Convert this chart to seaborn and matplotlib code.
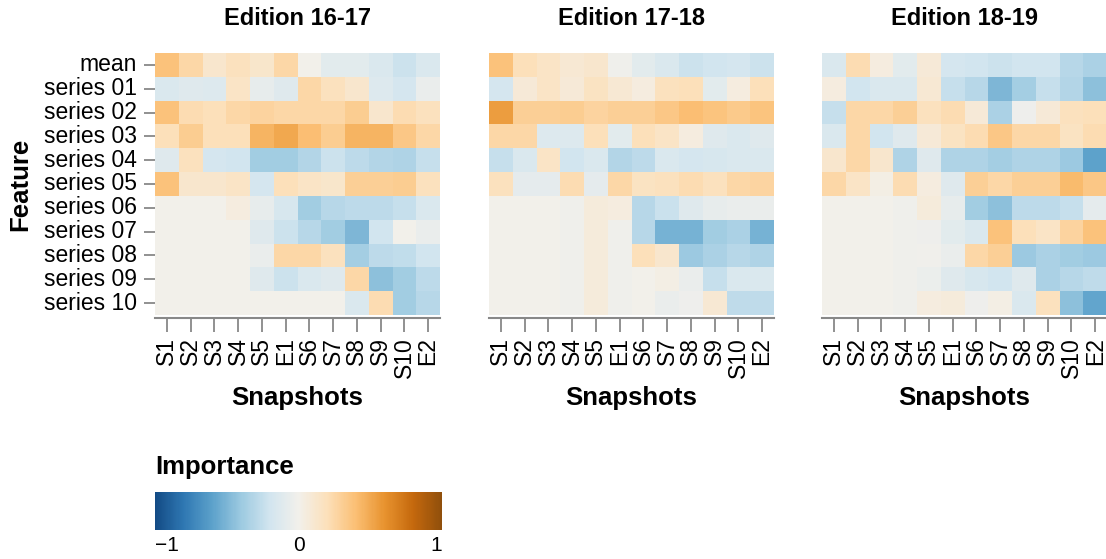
import numpy as np
import pandas as pd
import matplotlib
matplotlib.use("Agg")
import matplotlib.pyplot as plt
from matplotlib.colors import LinearSegmentedColormap
import seaborn as sns

sns.set_theme(style="white")
plt.rcParams["font.family"] = ["Liberation Sans", "DejaVu Sans"]
plt.rcParams["text.color"] = "black"
plt.rcParams["xtick.labelcolor"] = "black"
plt.rcParams["ytick.labelcolor"] = "black"

features = ["mean", "series 01", "series 02", "series 03", "series 04", "series 05",
            "series 06", "series 07", "series 08", "series 09", "series 10"]
snapshots = ["S1", "S2", "S3", "S4", "S5", "E1", "S6", "S7", "S8", "S9", "S10", "E2"]
editions = ["Edition 16-17", "Edition 17-18", "Edition 18-19"]

imp_1617 = [
    [0.38, 0.25, 0.12, 0.18, 0.13, 0.25, 0.00, -0.10, -0.10, -0.15, -0.22, -0.15],
    [-0.15, -0.12, -0.13, 0.15, -0.07, -0.12, 0.25, 0.18, 0.12, -0.13, -0.18, -0.05],
    [0.38, 0.22, 0.20, 0.25, 0.28, 0.25, 0.25, 0.25, 0.32, 0.12, 0.22, 0.18],
    [0.20, 0.32, 0.20, 0.20, 0.45, 0.50, 0.40, 0.32, 0.45, 0.45, 0.35, 0.25],
    [-0.12, 0.18, -0.18, -0.20, -0.38, -0.38, -0.32, -0.22, -0.28, -0.32, -0.33, -0.25],
    [0.38, 0.12, 0.12, 0.15, -0.18, 0.20, 0.15, 0.13, 0.30, 0.30, 0.32, 0.18],
    [0.00, 0.00, 0.00, 0.05, -0.07, -0.17, -0.38, -0.30, -0.28, -0.28, -0.25, -0.15],
    [0.00, 0.00, 0.00, 0.00, -0.12, -0.22, -0.30, -0.38, -0.50, -0.20, 0.00, -0.05],
    [0.00, 0.00, 0.00, 0.00, -0.05, 0.25, 0.25, 0.18, -0.37, -0.28, -0.26, -0.20],
    [0.00, 0.00, 0.00, 0.00, -0.12, -0.22, -0.15, -0.12, 0.25, -0.45, -0.38, -0.28],
    [0.00, 0.00, 0.00, 0.00, 0.00, 0.00, 0.00, 0.00, -0.15, 0.22, -0.38, -0.30],
]

imp_1718 = [
    [0.38, 0.20, 0.15, 0.10, 0.12, -0.02, -0.10, -0.15, -0.22, -0.20, -0.18, -0.22],
    [-0.18, 0.08, 0.15, 0.08, 0.17, 0.10, 0.05, 0.18, 0.20, -0.10, 0.05, 0.20],
    [0.55, 0.30, 0.30, 0.32, 0.28, 0.30, 0.30, 0.35, 0.40, 0.37, 0.33, 0.37],
    [0.25, 0.25, -0.13, -0.13, 0.20, -0.10, 0.20, 0.15, 0.05, -0.12, -0.15, -0.12],
    [-0.25, -0.15, 0.15, -0.20, -0.15, -0.32, -0.28, -0.15, -0.18, -0.17, -0.15, -0.15],
    [0.18, -0.08, -0.08, 0.22, -0.08, 0.25, 0.17, 0.18, 0.22, 0.18, 0.25, 0.27],
    [0.00, 0.00, 0.00, -0.02, 0.07, 0.05, -0.30, -0.23, -0.12, -0.07, -0.05, -0.05],
    [0.00, 0.00, 0.00, -0.02, 0.07, -0.02, -0.30, -0.52, -0.52, -0.38, -0.35, -0.52],
    [0.00, 0.00, 0.00, -0.02, 0.07, -0.02, 0.20, 0.12, -0.40, -0.35, -0.30, -0.33],
    [0.00, 0.00, 0.00, -0.02, 0.07, -0.02, 0.00, 0.03, -0.05, -0.25, -0.15, -0.15],
    [0.00, 0.00, 0.00, -0.02, 0.07, -0.02, 0.00, -0.05, -0.03, 0.10, -0.27, -0.27],
]

imp_1819 = [
    [-0.15, 0.22, 0.05, -0.10, 0.08, -0.18, -0.20, -0.22, -0.20, -0.20, -0.30, -0.35],
    [0.05, -0.20, -0.15, -0.15, 0.10, -0.25, -0.30, -0.50, -0.37, -0.25, -0.32, -0.45],
    [-0.25, 0.25, 0.25, 0.30, 0.18, 0.22, 0.08, -0.35, -0.03, 0.08, 0.18, 0.20],
    [-0.15, 0.25, -0.20, -0.12, 0.08, 0.17, 0.22, 0.35, 0.25, 0.25, 0.17, 0.22],
    [0.12, 0.25, 0.12, -0.33, -0.12, -0.33, -0.33, -0.37, -0.33, -0.33, -0.40, -0.60],
    [0.25, 0.15, 0.03, 0.22, 0.05, -0.12, 0.30, 0.25, 0.30, 0.30, 0.42, 0.35],
    [0.00, 0.00, 0.00, -0.02, 0.07, -0.07, -0.38, -0.45, -0.28, -0.28, -0.25, -0.08],
    [0.00, 0.00, 0.00, -0.02, -0.03, -0.10, -0.15, 0.38, 0.20, 0.15, 0.28, 0.38],
    [0.00, 0.00, 0.00, -0.02, -0.01, -0.05, 0.25, 0.30, -0.40, -0.35, -0.38, -0.40],
    [0.00, 0.00, 0.00, -0.02, -0.04, -0.12, -0.17, -0.20, -0.12, -0.35, -0.30, -0.27],
    [0.00, 0.00, 0.00, -0.02, 0.05, 0.07, -0.03, 0.03, -0.15, 0.18, -0.45, -0.58],
]

# Diverging blue-orange palette
blue_orange = LinearSegmentedColormap.from_list(
    "blueorange",
    ["#134b85", "#2f78b3", "#5da2cb", "#9dcae1", "#d2e5ef", "#f2f0eb",
     "#fce0ba", "#fbbf74", "#e8932f", "#c5690d", "#904f0c"],
)

W, H = 1106, 559
fig = plt.figure(figsize=(W / 100, H / 100), dpi=100)


def fx(px):
    return px / W


def fy(py):
    return 1 - py / H


panel_left = [155, 489, 822]
panel_w, top, bottom = 285, 53, 315
axis_grey = "#888888"
tick_fs, title_fs, axis_title_fs = 16.5, 17, 18.5

for i, (title, values) in enumerate(zip(editions, [imp_1617, imp_1718, imp_1819])):
    ax = fig.add_axes([fx(panel_left[i]), fy(bottom), fx(panel_w), (bottom - top) / H])
    df = pd.DataFrame(values, index=features, columns=snapshots)
    sns.heatmap(df, ax=ax, cmap=blue_orange, vmin=-1, vmax=1, cbar=False,
                linewidths=0, square=False)
    ax.set_xlabel("")
    ax.set_ylabel("")
    ax.spines["bottom"].set_visible(True)
    ax.spines["bottom"].set_color(axis_grey)
    ax.spines["bottom"].set_linewidth(1.5)
    ax.spines["bottom"].set_position(("outward", 2))
    ax.tick_params(axis="x", which="both", bottom=True, length=10, width=1.3,
                   color=axis_grey, pad=4, labelsize=tick_fs, labelrotation=90,
                   labelcolor="black")
    for lab in ax.get_xticklabels():
        lab.set_ha("center")
        lab.set_va("top")
    if i == 0:
        ax.tick_params(axis="y", which="both", left=True, length=8, width=1.3,
                       color=axis_grey, pad=5, labelsize=tick_fs, labelrotation=0,
                       labelcolor="black")
    else:
        ax.set_yticks([])

    cx = panel_left[i] + panel_w / 2
    fig.text(fx(cx), fy(25), title, fontsize=title_fs, fontweight="bold",
             ha="center", va="baseline", color="black")
    fig.text(fx(cx), fy(398), "Snapshots", fontsize=axis_title_fs,
             fontweight="bold", ha="center", va="center", color="black")

fig.text(fx(20), fy(184), "Feature", fontsize=axis_title_fs, fontweight="bold",
         rotation=90, ha="center", va="center", color="black")

# Shared colour legend
cax = fig.add_axes([fx(155), fy(530), fx(287), 38 / H])
sm = plt.cm.ScalarMappable(cmap=blue_orange, norm=plt.Normalize(-1, 1))
cb = fig.colorbar(sm, cax=cax, orientation="horizontal")
cb.outline.set_visible(False)
cb.set_ticks([-1, 0, 1])
cb.set_ticklabels(["\u22121", "0", "1"])
cax.tick_params(length=0, labelsize=15, pad=4, labelcolor="black")
tl = cax.get_xticklabels()
tl[0].set_ha("left")
tl[-1].set_ha("right")
fig.text(fx(155), fy(467), "Importance", fontsize=18.5, fontweight="bold",
         ha="left", va="center", color="black")

fig.savefig("out.png", dpi=100)
